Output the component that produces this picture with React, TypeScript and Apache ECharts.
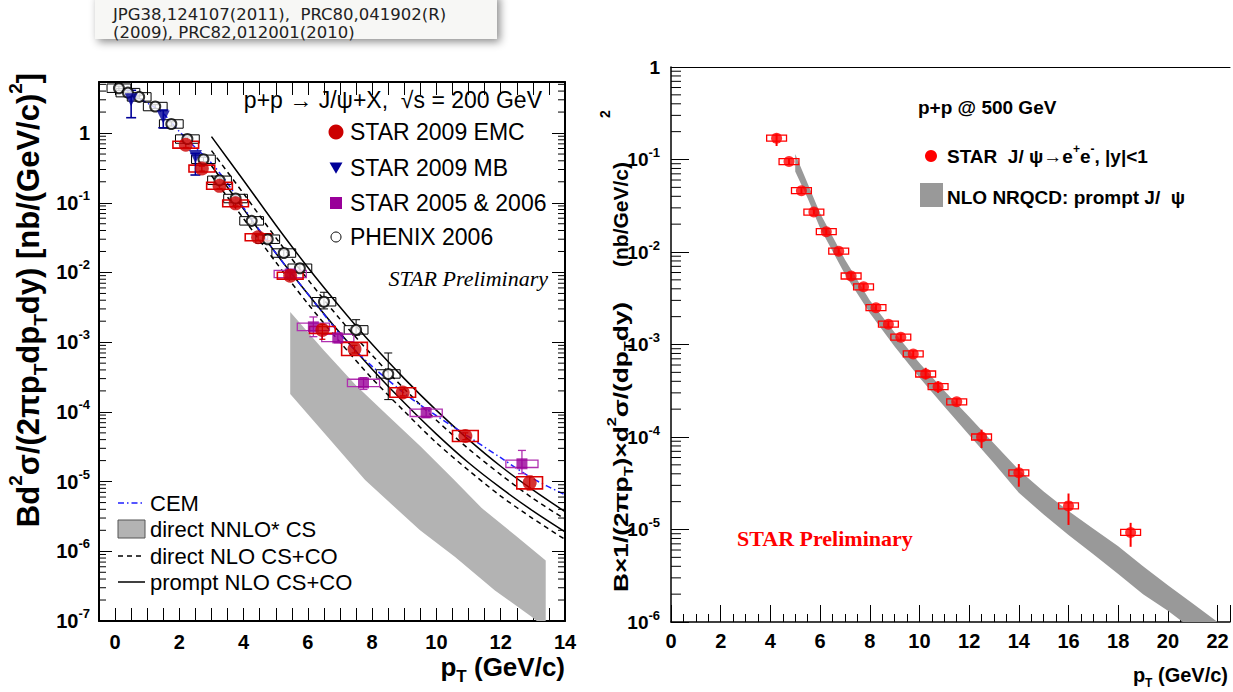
import React, { useEffect, useRef } from 'react';
import * as echarts from 'echarts';

const SANS = '"Liberation Sans", Arial, Helvetica, sans-serif';
const SERIF = '"Liberation Serif", "Times New Roman", serif';
const VERD = 'DejaVu Sans';

// ================= LEFT PANEL: p+p -> J/psi + X, sqrt(s) = 200 GeV =================
// STAR 2009 EMC
const emcX = [2.2, 2.7, 3.25, 3.75, 4.45, 5.45, 6.45, 7.45, 8.95, 10.9, 12.9];
const emcY = [0.68, 0.31, 0.175, 0.098, 0.032, 0.009, 0.0015, 8.0e-4, 1.9e-4, 4.5e-5, 9.6e-6];
const emcLo = [0.62, 0.285, 0.16, 0.09, 0.029, 0.0082, 0.0011, 7.0e-4, 1.7e-4, 4.0e-5, 7.6e-6];
const emcHi = [0.74, 0.335, 0.19, 0.107, 0.035, 0.0099, 0.0018, 9.0e-4, 2.1e-4, 5.0e-5, 1.2e-5];
const emcSys = [0.12, 0.12, 0.12, 0.12, 0.12, 0.12, 0.12, 0.24, 0.17, 0.2, 0.22];

// STAR 2009 MB
const mbX = [0.5, 1.5, 2.5];
const mbY = [3.0, 1.7, 0.46];
const mbLo = [1.66, 1.19, 0.25];
const mbHi = [4.1, 2.14, 0.51];

// STAR 2005 & 2006
const s56X = [5.45, 6.17, 6.93, 7.73, 9.68, 12.66];
const s56Y = [0.0095, 0.00166, 0.00115, 2.6e-4, 9.7e-5, 1.8e-5];
const s56Lo = [0.0085, 0.0012, 0.00098, 2.1e-4, 8.3e-5, 1.3e-5];
const s56Hi = [0.0106, 0.0023, 0.00135, 3.1e-4, 1.15e-4, 2.8e-5];
const s56Sys = [0.13, 0.13, 0.13, 0.13, 0.13, 0.13];

// PHENIX 2006
const phxX = [0.12, 0.4, 0.75, 1.25, 1.75, 2.25, 2.75, 3.25, 3.75, 4.25, 4.75, 5.25, 5.75, 6.5, 7.5, 8.5];
const phxY = [4.4, 3.8, 3.3, 2.4, 1.35, 0.82, 0.42, 0.21, 0.115, 0.055, 0.03, 0.019, 0.0115, 0.0038, 0.0015, 3.5e-4];
const phxLo = [4.1, 3.55, 3.1, 2.25, 1.26, 0.77, 0.39, 0.195, 0.106, 0.05, 0.027, 0.017, 0.0102, 0.003, 0.00126, 1.5e-4];
const phxHi = [4.7, 4.05, 3.5, 2.55, 1.45, 0.88, 0.45, 0.225, 0.125, 0.06, 0.034, 0.021, 0.013, 0.0052, 0.0021, 7.0e-4];
const phxSys = [0.15, 0.15, 0.15, 0.15, 0.15, 0.15, 0.15, 0.15, 0.15, 0.15, 0.15, 0.15, 0.15, 0.15, 0.15, 0.15];

// CEM
const cemX = [0.4, 1, 1.5, 2, 2.5, 3, 3.5, 4, 4.5, 5, 5.5, 6, 6.5, 7, 7.5, 8, 8.5, 9, 9.5, 10, 11, 12, 13, 14];
const cemY = [3.7, 2.7, 1.9, 1.05, 0.62, 0.37, 0.19, 0.085, 0.04, 0.019, 0.0095, 0.0049, 0.0025, 0.0013, 7.4e-4, 4.5e-4, 2.85e-4, 1.85e-4, 1.25e-4, 8.8e-5, 4.4e-5, 2.2e-5, 1.1e-5, 6.5e-6];

// NLO CS+CO (prompt: solid, direct: dashed)
const nloX = [3, 4, 5, 6, 7, 8, 9, 10, 11, 12, 13, 14];
const promptUp = [0.89, 0.209, 0.048, 0.0118, 0.0032, 9.3e-4, 3.0e-4, 1.05e-4, 4.0e-5, 1.66e-5, 7.6e-6, 3.7e-6];
const promptLo = [0.34, 0.081, 0.019, 0.0049, 0.00135, 4.1e-4, 1.35e-4, 4.8e-5, 1.86e-5, 8.1e-6, 3.8e-6, 1.9e-6];
const directUp = [0.56, 0.135, 0.0316, 0.0079, 0.00214, 6.5e-4, 2.14e-4, 7.6e-5, 2.95e-5, 1.26e-5, 5.75e-6, 2.9e-6];
const directLo = [0.245, 0.059, 0.0141, 0.00355, 0.001, 3.0e-4, 1.02e-4, 3.6e-5, 1.45e-5, 6.2e-6, 2.95e-6, 1.48e-6];

// direct NNLO* CS band
const nnloUpX = [5.45, 6.5, 7.5, 8.5, 9.5, 10.5, 11.4, 12.45, 13.4];
const nnloUpY = [2.7e-3, 7.6e-4, 2.4e-4, 8.7e-5, 3.2e-5, 1.12e-5, 4.2e-6, 1.7e-6, 7.4e-7];
const nnloLoX = [5.45, 6.5, 7.78, 9.49, 10.58, 11.82, 12.96, 13.4];
const nnloLoY = [1.8e-4, 5.0e-5, 1.05e-5, 2.0e-6, 8.3e-7, 2.75e-7, 1.15e-7, 7.9e-8];

// ================= RIGHT PANEL: p+p @ 500 GeV =================
const r500X = [4.25, 4.75, 5.25, 5.75, 6.25, 6.75, 7.25, 7.75, 8.25, 8.75, 9.25, 9.75, 10.25, 10.75, 11.5, 12.5, 14, 16, 18.5];
const r500Y = [0.17, 0.095, 0.046, 0.027, 0.0166, 0.0102, 0.0055, 0.0042, 0.0025, 0.00166, 0.0012, 7.9e-4, 4.8e-4, 3.5e-4, 2.4e-4, 1.0e-4, 4.1e-5, 1.8e-5, 9.3e-6];
const r500Lo = [0.14, 0.088, 0.043, 0.0254, 0.0156, 0.0096, 0.0051, 0.0039, 0.00233, 0.00154, 0.00111, 7.3e-4, 4.2e-4, 3.0e-4, 2.2e-4, 7.6e-5, 2.9e-5, 1.12e-5, 6.5e-6];
const r500Hi = [0.19, 0.102, 0.049, 0.0287, 0.0177, 0.0109, 0.0059, 0.0045, 0.00268, 0.00178, 0.0013, 8.5e-4, 5.6e-4, 4.0e-4, 2.6e-4, 1.2e-4, 5.1e-5, 2.45e-5, 1.18e-5];

// NLO NRQCD prompt J/psi band
const nrqUpX = [5.0, 5.5, 6, 7, 8, 9, 10, 11, 12, 13, 14, 15, 16, 17, 18, 19, 20, 21, 22.0];
const nrqUpY = [0.115, 0.055, 0.0263, 0.0083, 0.003, 0.00135, 6.3e-4, 3.16e-4, 1.66e-4, 8.5e-5, 4.4e-5, 2.57e-5, 1.58e-5, 1.02e-5, 6.6e-6, 4.0e-6, 2.5e-6, 1.58e-6, 1.0e-6];
const nrqLoX = [5.0, 5.5, 6, 7, 8, 9, 10, 11, 12, 13, 14, 15, 16, 17, 18, 19, 20, 20.6];
const nrqLoY = [0.074, 0.038, 0.0182, 0.00575, 0.00219, 9.5e-4, 4.4e-4, 2.14e-4, 1.05e-4, 5.2e-5, 2.5e-5, 1.45e-5, 8.7e-6, 5.4e-6, 3.3e-6, 2.0e-6, 1.32e-6, 1.0e-6];

// ticks
const leftDecades = [-7, -6, -5, -4, -3, -2, -1, 0];
const rightDecades = [-6, -5, -4, -3, -2, -1];
const minorMult = [2, 3, 4, 5, 6, 7, 8, 9];
const LEFT_YMAX = 5.4;

const pairs = (xs: number[], ys: number[]) => xs.map((x, i) => [x, ys[i]]);

function logLabel(v: number) {
  const e = Math.round(Math.log10(v));
  if (Math.abs(Math.log10(v) - e) > 1e-6) return '';
  return e === 0 ? '{b|1}' : `{b|10}{e|${e}}`;
}

function errSeries(xi: number, yi: number, xs: number[], lo: number[], hi: number[], color: string, cap: number, lw: number) {
  return {
    type: 'custom', xAxisIndex: xi, yAxisIndex: yi, silent: true, z: 3,
    data: xs.map((x, i) => [x, lo[i], hi[i]]),
    renderItem: (p: any, api: any) => {
      const x = api.value(0);
      const a = api.coord([x, api.value(1)]);
      const b = api.coord([x, api.value(2)]);
      const st = { stroke: color, lineWidth: lw };
      const ch: any[] = [{ type: 'line', shape: { x1: a[0], y1: a[1], x2: b[0], y2: b[1] }, style: st }];
      if (cap > 0) {
        ch.push({ type: 'line', shape: { x1: a[0] - cap, y1: a[1], x2: a[0] + cap, y2: a[1] }, style: st });
        ch.push({ type: 'line', shape: { x1: b[0] - cap, y1: b[1], x2: b[0] + cap, y2: b[1] }, style: st });
      }
      return { type: 'group', children: ch };
    },
  };
}

function boxSeries(xi: number, yi: number, xs: number[], ys: number[], sys: number[], halfW: number, color: string, lw: number) {
  return {
    type: 'custom', xAxisIndex: xi, yAxisIndex: yi, silent: true, z: 3,
    data: xs.map((x, i) => [x, ys[i], sys[i]]),
    renderItem: (p: any, api: any) => {
      const x = api.value(0), y = api.value(1), s = api.value(2);
      const a = api.coord([x - halfW, y * (1 + s)]);
      const b = api.coord([x + halfW, y / (1 + s)]);
      return { type: 'rect', shape: { x: a[0], y: a[1], width: b[0] - a[0], height: b[1] - a[1] }, style: { fill: 'none', stroke: color, lineWidth: lw } };
    },
  };
}

function fixedBoxSeries(xi: number, yi: number, xs: number[], ys: number[], halfW: number, hPx: number, color: string) {
  return {
    type: 'custom', xAxisIndex: xi, yAxisIndex: yi, silent: true, z: 3,
    data: xs.map((x, i) => [x, ys[i]]),
    renderItem: (p: any, api: any) => {
      const x = api.value(0), y = api.value(1);
      const a = api.coord([x - halfW, y]);
      const b = api.coord([x + halfW, y]);
      return { type: 'rect', shape: { x: a[0], y: a[1] - hPx / 2, width: b[0] - a[0], height: hPx }, style: { fill: 'none', stroke: color, lineWidth: 1.3 } };
    },
  };
}

function bandSeries(xi: number, yi: number, ux: number[], uy: number[], lx: number[], ly: number[], color: string) {
  return {
    type: 'custom', xAxisIndex: xi, yAxisIndex: yi, silent: true, clip: true, z: 1,
    data: [[ux[0], uy[0]]],
    renderItem: (p: any, api: any) => {
      const pts: number[][] = [];
      ux.forEach((x, i) => pts.push(api.coord([x, uy[i]])));
      for (let i = lx.length - 1; i >= 0; i--) pts.push(api.coord([lx[i], ly[i]]));
      return { type: 'polygon', shape: { points: pts }, style: { fill: color } };
    },
  };
}

function minorTickSeries(xi: number, yi: number, xAnchor: number, vals: number[], len: number, both: boolean) {
  return {
    type: 'custom', xAxisIndex: xi, yAxisIndex: yi, silent: true, z: 5,
    data: vals.map((v) => [xAnchor, v]),
    renderItem: (p: any, api: any) => {
      const cs = p.coordSys;
      const y = api.coord([xAnchor, api.value(1)])[1];
      const st = { stroke: '#000', lineWidth: 1 };
      const ch: any[] = [{ type: 'line', shape: { x1: cs.x, y1: y, x2: cs.x + len, y2: y }, style: st }];
      if (both) ch.push({ type: 'line', shape: { x1: cs.x + cs.width, y1: y, x2: cs.x + cs.width - len, y2: y }, style: st });
      return { type: 'group', children: ch };
    },
  };
}

function lineSeries(xs: number[], ys: number[], color: string, type: any, width: number) {
  return {
    type: 'line', xAxisIndex: 0, yAxisIndex: 0, data: pairs(xs, ys), showSymbol: false, symbol: 'none', smooth: 0.3,
    silent: true, z: 2, lineStyle: { color, type, width },
  };
}

const txt = (text: string, x: number, y: number, size: number, extra: any = {}) => ({
  type: 'text', silent: true,
  style: {
    text, x, y, fontSize: size, fontFamily: SANS, fill: '#000',
    align: 'left', textAlign: 'left', verticalAlign: 'middle', textVerticalAlign: 'middle', ...extra,
  },
});

function buildOption() {
  const leftMinor = leftDecades.flatMap((d) => minorMult.map((m) => m * Math.pow(10, d))).filter((v) => v < LEFT_YMAX);
  const rightMinor = rightDecades.flatMap((d) => minorMult.map((m) => m * Math.pow(10, d)));

  const richL = {
    b: { fontSize: 20, fontWeight: 'bold', fontFamily: SANS, color: '#000', lineHeight: 28 },
    e: { fontSize: 13, fontWeight: 'bold', fontFamily: SANS, color: '#000', verticalAlign: 'top' },
  };
  const richR = {
    b: { fontSize: 19, fontWeight: 'bold', fontFamily: SANS, color: '#000', lineHeight: 27 },
    e: { fontSize: 13, fontWeight: 'bold', fontFamily: SANS, color: '#000', verticalAlign: 'top' },
  };

  const leftAxisLine = { show: true, onZero: false, lineStyle: { color: '#000', width: 2 } };
  const rightAxisLine = { show: true, onZero: false, lineStyle: { color: '#000', width: 1.5 } };

  const evenLabel = (v: number) => {
    const r = Math.round(v);
    return Math.abs(v - r) < 1e-6 && r % 2 === 0 ? String(r) : '';
  };

  const downTri = (cx: number, cy: number, s: number) => [[cx - s, cy - s * 0.85], [cx + s, cy - s * 0.85], [cx, cy + s * 0.9]];

  return {
    animation: false,
    backgroundColor: '#ffffff',
    grid: [
      { left: 99, top: 82, width: 466, height: 539 },
      { left: 671, top: 67, width: 559, height: 555 },
    ],
    xAxis: [
      {
        gridIndex: 0, type: 'value', min: -0.5, max: 14, interval: 0.5, position: 'bottom',
        axisLine: leftAxisLine, axisTick: { show: true, inside: true, length: 13, lineStyle: { color: '#000', width: 1 } },
        axisLabel: { formatter: evenLabel, color: '#000', fontSize: 20, fontWeight: 'bold', fontFamily: SANS, margin: 11 },
        splitLine: { show: false },
      },
      {
        gridIndex: 0, type: 'value', min: -0.5, max: 14, interval: 0.5, position: 'top',
        axisLine: leftAxisLine, axisTick: { show: true, inside: true, length: 13, lineStyle: { color: '#000', width: 1 } },
        axisLabel: { show: false }, splitLine: { show: false },
      },
      {
        gridIndex: 1, type: 'value', min: 0, max: 22.5, interval: 2, position: 'bottom',
        axisLine: rightAxisLine, axisTick: { show: true, inside: true, length: 17, lineStyle: { color: '#000', width: 1 } },
        minorTick: { show: true, splitNumber: 4, length: 8, lineStyle: { color: '#000', width: 1 } },
        axisLabel: { formatter: evenLabel, color: '#000', fontSize: 20, fontWeight: 'bold', fontFamily: SANS, margin: 9 },
        splitLine: { show: false }, minorSplitLine: { show: false },
      },
      {
        gridIndex: 1, type: 'value', min: 0, max: 22.5, position: 'top',
        axisLine: { show: true, onZero: false, lineStyle: { color: '#000', width: 1 } },
        axisTick: { show: false }, axisLabel: { show: false }, splitLine: { show: false },
      },
    ],
    yAxis: [
      {
        gridIndex: 0, type: 'log', logBase: 10, min: 1e-7, max: LEFT_YMAX, splitNumber: 10, position: 'left',
        axisLine: leftAxisLine, axisTick: { show: true, inside: true, length: 13, lineStyle: { color: '#000', width: 1 } },
        axisLabel: { formatter: logLabel, rich: richL, margin: 9 }, splitLine: { show: false },
      },
      {
        gridIndex: 0, type: 'log', logBase: 10, min: 1e-7, max: LEFT_YMAX, splitNumber: 10, position: 'right',
        axisLine: leftAxisLine, axisTick: { show: true, inside: true, length: 13, lineStyle: { color: '#000', width: 1 } },
        axisLabel: { show: false }, splitLine: { show: false },
      },
      {
        gridIndex: 1, type: 'log', logBase: 10, min: 1e-6, max: 1, splitNumber: 10, position: 'left',
        axisLine: rightAxisLine, axisTick: { show: true, inside: true, length: 18, lineStyle: { color: '#000', width: 1 } },
        axisLabel: { formatter: logLabel, rich: richR, margin: 11 }, splitLine: { show: false },
      },
    ],
    series: [
      // ---------- left ----------
      bandSeries(0, 0, nnloUpX, nnloUpY, nnloLoX, nnloLoY, '#b3b3b3'),
      lineSeries(nloX, directUp, '#000', [5, 4], 1.5),
      lineSeries(nloX, directLo, '#000', [5, 4], 1.5),
      lineSeries(nloX, promptUp, '#000', 'solid', 1.5),
      lineSeries(nloX, promptLo, '#000', 'solid', 1.5),
      lineSeries(cemX, cemY, '#1f1fff', [6, 3, 1.5, 3], 1.5),
      boxSeries(0, 0, phxX, phxY, phxSys, 0.37, '#000', 1),
      errSeries(0, 0, phxX, phxLo, phxHi, '#000', 4, 1),
      { type: 'scatter', name: 'PHENIX 2006', xAxisIndex: 0, yAxisIndex: 0, data: pairs(phxX, phxY), symbol: 'emptyCircle', symbolSize: 10, itemStyle: { color: '#000', borderWidth: 1 }, z: 4, silent: true },
      boxSeries(0, 0, s56X, s56Y, s56Sys, 0.5, '#b030b0', 1.3),
      errSeries(0, 0, s56X, s56Lo, s56Hi, '#b030b0', 4, 1.3),
      { type: 'scatter', name: 'STAR 2005 & 2006', xAxisIndex: 0, yAxisIndex: 0, data: pairs(s56X, s56Y), symbol: 'rect', symbolSize: 11, itemStyle: { color: '#990099' }, z: 4, silent: true },
      boxSeries(0, 0, emcX, emcY, emcSys, 0.4, '#dd0000', 1.6),
      errSeries(0, 0, emcX, emcLo, emcHi, '#cc0000', 3, 1.3),
      { type: 'scatter', name: 'STAR 2009 EMC', xAxisIndex: 0, yAxisIndex: 0, data: pairs(emcX, emcY), symbol: 'circle', symbolSize: 14, itemStyle: { color: '#cc0000' }, z: 5, silent: true },
      errSeries(0, 0, mbX, mbLo, mbHi, '#000099', 5, 1.6),
      { type: 'scatter', name: 'STAR 2009 MB', xAxisIndex: 0, yAxisIndex: 0, data: pairs(mbX, mbY), symbol: 'triangle', symbolRotate: 180, symbolSize: 13, itemStyle: { color: '#000099' }, z: 5, silent: true },
      minorTickSeries(0, 0, 0, leftMinor, 7, true),
      // ---------- right ----------
      bandSeries(2, 2, nrqUpX, nrqUpY, nrqLoX, nrqLoY, '#999999'),
      errSeries(2, 2, r500X, r500Lo, r500Hi, '#ff0000', 0, 2),
      fixedBoxSeries(2, 2, r500X, r500Y, 0.4, 6, '#ff0000'),
      { type: 'scatter', name: 'STAR J/psi 500', xAxisIndex: 2, yAxisIndex: 2, data: pairs(r500X, r500Y), symbol: 'circle', symbolSize: 11, itemStyle: { color: '#ff0000' }, z: 5, silent: true },
      minorTickSeries(2, 2, 1, rightMinor, 10, false),
    ],
    graphic: [
      // citation box
      { type: 'rect', silent: true, shape: { x: 95, y: -6, width: 402, height: 45 }, style: { fill: '#f7f7f5', shadowBlur: 8, shadowColor: 'rgba(0,0,0,0.45)', shadowOffsetX: 3, shadowOffsetY: 3 } },
      txt('JPG38,124107(2011),  PRC80,041902(R)', 113, 14, 16.5, { fontFamily: VERD, fill: '#222' }),
      txt('(2009), PRC82,012001(2010)', 113, 32, 16.5, { fontFamily: VERD, fill: '#222' }),

      // left y title
      {
        type: 'text', silent: true, x: 28, y: 300, rotation: Math.PI / 2,
        style: {
          text: '{n|Bd}{u|2}{n|σ/(2πp}{s|T}{n|dp}{s|T}{n|dy) [nb/(GeV/c)}{u|2}{n|]}',
          align: 'center', textAlign: 'center', verticalAlign: 'middle', textVerticalAlign: 'middle',
          rich: {
            n: { fontSize: 31, fontWeight: 'bold', fontFamily: SANS, fill: '#000', lineHeight: 44 },
            u: { fontSize: 19, fontWeight: 'bold', fontFamily: SANS, fill: '#000', verticalAlign: 'top' },
            s: { fontSize: 19, fontWeight: 'bold', fontFamily: SANS, fill: '#000', verticalAlign: 'bottom' },
          },
        },
      },
      // left x title
      {
        type: 'text', silent: true,
        style: {
          text: '{b|p}{s|T}{b| (GeV/c)}', x: 565, y: 667,
          align: 'right', textAlign: 'right', verticalAlign: 'middle', textVerticalAlign: 'middle',
          rich: {
            b: { fontSize: 26, fontWeight: 'bold', fontFamily: SANS, fill: '#000', lineHeight: 36 },
            s: { fontSize: 17, fontWeight: 'bold', fontFamily: SANS, fill: '#000', verticalAlign: 'bottom' },
          },
        },
      },
      // left legend (top right)
      txt('p+p → J/ψ+X,  √s = 200 GeV', 542, 100, 23, { align: 'right', textAlign: 'right' }),
      { type: 'circle', silent: true, shape: { cx: 336, cy: 132, r: 7.5 }, style: { fill: '#cc0000' } },
      txt('STAR 2009 EMC', 350, 132, 23),
      { type: 'polygon', silent: true, shape: { points: downTri(336, 168, 6.5) }, style: { fill: '#000099' } },
      txt('STAR 2009 MB', 350, 168, 23),
      { type: 'rect', silent: true, shape: { x: 330, y: 197, width: 12, height: 12 }, style: { fill: '#990099' } },
      txt('STAR 2005 & 2006', 350, 203, 23),
      { type: 'circle', silent: true, shape: { cx: 336, cy: 237, r: 5 }, style: { fill: '#fff', stroke: '#000', lineWidth: 1 } },
      txt('PHENIX 2006', 350, 237, 23),
      txt('STAR Preliminary', 548, 278, 22, { align: 'right', textAlign: 'right', fontFamily: SERIF, fontStyle: 'italic' }),
      // left legend (bottom left)
      { type: 'line', silent: true, shape: { x1: 118, y1: 503, x2: 145, y2: 503 }, style: { stroke: '#1f1fff', lineWidth: 1.5, lineDash: [6, 3, 1.5, 3] } },
      txt('CEM', 150, 503, 22),
      { type: 'rect', silent: true, shape: { x: 118, y: 520, width: 27, height: 18 }, style: { fill: '#b3b3b3', stroke: '#555', lineWidth: 1 } },
      txt('direct NNLO* CS', 150, 529, 22),
      { type: 'line', silent: true, shape: { x1: 118, y1: 556, x2: 145, y2: 556 }, style: { stroke: '#000', lineWidth: 1.5, lineDash: [5, 4] } },
      txt('direct NLO CS+CO', 150, 556, 22),
      { type: 'line', silent: true, shape: { x1: 118, y1: 582, x2: 145, y2: 582 }, style: { stroke: '#000', lineWidth: 1.5 } },
      txt('prompt NLO CS+CO', 150, 582, 22),

      // right y title
      {
        type: 'text', silent: true, x: 620, y: 592, rotation: Math.PI / 2, scaleX: 1.25, scaleY: 1,
        style: {
          text: '{b|B×1/(2πp}{s|T}{b|)×d}{u|2}{b|σ/(dp}{s|T}{b|dy)}',
          align: 'left', textAlign: 'left', verticalAlign: 'middle', textVerticalAlign: 'middle',
          rich: {
            b: { fontSize: 21, fontWeight: 'bold', fontFamily: SANS, fill: '#000', lineHeight: 30 },
            u: { fontSize: 13, fontWeight: 'bold', fontFamily: SANS, fill: '#000', verticalAlign: 'top' },
            s: { fontSize: 13, fontWeight: 'bold', fontFamily: SANS, fill: '#000', verticalAlign: 'bottom' },
          },
        },
      },
      {
        type: 'text', silent: true, x: 620, y: 267, rotation: Math.PI / 2,
        style: { text: '(nb/GeV/c)', fontSize: 21, fontWeight: 'bold', fontFamily: SANS, fill: '#000', align: 'left', textAlign: 'left', verticalAlign: 'middle', textVerticalAlign: 'middle' },
      },
      {
        type: 'text', silent: true, x: 605, y: 114, rotation: Math.PI / 2,
        style: { text: '2', fontSize: 14, fontWeight: 'bold', fontFamily: SANS, fill: '#000', align: 'center', textAlign: 'center', verticalAlign: 'middle', textVerticalAlign: 'middle' },
      },
      // right x title
      {
        type: 'text', silent: true,
        style: {
          text: '{b|p}{s|T}{b| (GeV/c)}', x: 1228, y: 675,
          align: 'right', textAlign: 'right', verticalAlign: 'middle', textVerticalAlign: 'middle',
          rich: {
            b: { fontSize: 20, fontWeight: 'bold', fontFamily: SANS, fill: '#000', lineHeight: 28 },
            s: { fontSize: 12, fontWeight: 'bold', fontFamily: SANS, fill: '#000', verticalAlign: 'bottom' },
          },
        },
      },
      // right legend
      txt('p+p @ 500 GeV', 918, 107, 19, { fontWeight: 'bold' }),
      { type: 'circle', silent: true, shape: { cx: 931, cy: 156, r: 6 }, style: { fill: '#ff0000' } },
      {
        type: 'text', silent: true,
        style: {
          text: '{b|STAR  J/ ψ→e}{u|+}{b|e}{u|-}{b|, |y|<1}', x: 947, y: 156,
          align: 'left', textAlign: 'left', verticalAlign: 'middle', textVerticalAlign: 'middle',
          rich: {
            b: { fontSize: 19, fontWeight: 'bold', fontFamily: SANS, fill: '#000', lineHeight: 26 },
            u: { fontSize: 12, fontWeight: 'bold', fontFamily: SANS, fill: '#000', verticalAlign: 'top' },
          },
        },
      },
      { type: 'rect', silent: true, shape: { x: 920, y: 183, width: 23, height: 24 }, style: { fill: '#999999' } },
      txt('NLO NRQCD: prompt J/  ψ', 947, 197, 19, { fontWeight: 'bold' }),
      txt('STAR Preliminary', 737, 538, 22, { fontFamily: SERIF, fontWeight: 'bold', fill: '#ff0000' }),
    ],
  };
}

export default function App() {
  const ref = useRef<HTMLDivElement>(null);
  useEffect(() => {
    if (!ref.current) return;
    const chart = echarts.init(ref.current, undefined, { renderer: 'svg' });
    chart.setOption(buildOption() as any);
    return () => chart.dispose();
  }, []);
  return (
    <div
      ref={ref}
      style={{ position: 'fixed', left: 0, top: 0, width: 1233, height: 692, background: '#fff' }}
    />
  );
}
